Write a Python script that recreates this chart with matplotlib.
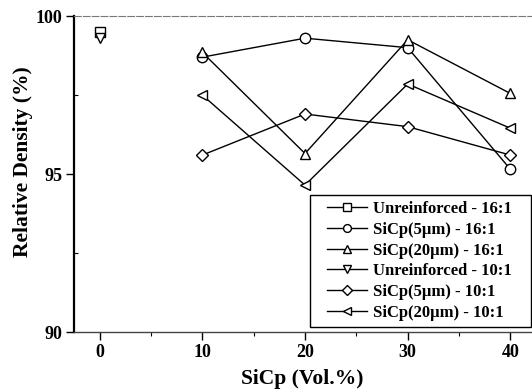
import numpy as np
import matplotlib.pyplot as plt
from matplotlib.ticker import MultipleLocator
from matplotlib.legend_handler import HandlerLine2D

plt.rcParams['font.family'] = ['Liberation Serif', 'DejaVu Serif']
plt.rcParams['font.weight'] = 'bold'

# data
x_unre = [0]
unre_16 = [99.5]
unre_10 = [99.3]

x_sic = [10, 20, 30, 40]
sic5_16 = [98.7, 99.3, 99.0, 95.15]
sic20_16 = [98.85, 95.65, 99.25, 97.55]
sic5_10 = [95.6, 96.9, 96.5, 95.6]
sic20_10 = [97.5, 94.65, 97.85, 96.45]

labels = ["Unreinforced - 16:1", "SiCp(5\u03bcm) - 16:1", "SiCp(20\u03bcm) - 16:1",
          "Unreinforced - 10:1", "SiCp(5\u03bcm) - 10:1", "SiCp(20\u03bcm) - 10:1"]

fig = plt.figure(figsize=(5.32, 3.92), dpi=100)
ax = fig.add_axes([0.139, 0.153, 0.859, 0.806])

style = dict(color='black', lw=1.0, mfc='white', mec='black', mew=1.0, ms=7.5)
ax.plot(x_unre, unre_16, marker='s', label=labels[0], **dict(style, ms=7))
ax.plot(x_sic, sic5_16, marker='o', label=labels[1], **style)
ax.plot(x_sic, sic20_16, marker='^', label=labels[2], **style)
ax.plot(x_unre, unre_10, marker='v', label=labels[3], **style)
ax.plot(x_sic, sic5_10, marker='D', label=labels[4], **dict(style, ms=6.5))
ax.plot(x_sic, sic20_10, marker='<', label=labels[5], **style)

ax.set_xlim(-2.5, 42)
ax.set_ylim(90, 100)
ax.xaxis.set_major_locator(MultipleLocator(10))
ax.xaxis.set_minor_locator(MultipleLocator(5))
ax.yaxis.set_major_locator(MultipleLocator(5))
ax.yaxis.set_minor_locator(MultipleLocator(2.5))
ax.tick_params(which='major', direction='out', length=6, width=1.0, labelsize=13, pad=2.5)
ax.tick_params(axis='x', which='minor', direction='out', length=3, width=0.8)
ax.tick_params(axis='y', which='minor', direction='in', length=3, width=0.8)

ax.spines['left'].set_linewidth(1.6)
ax.spines['bottom'].set_linewidth(1.0)
ax.spines['bottom'].set_color('#444444')
ax.spines['top'].set_linewidth(0.8)
ax.spines['top'].set_linestyle((0, (6, 2)))
ax.spines['top'].set_color('#777777')
ax.spines['right'].set_visible(False)

ax.set_xlabel("SiCp (Vol.%)", fontsize=15.5, fontweight='bold', labelpad=6)
ax.set_ylabel("Relative Density (%)", fontsize=15.5, fontweight='bold')
ax.yaxis.set_label_coords(-0.09, 0.54)

# trailing spaces give the wider right margin of the original legend box
leg_labels = [s + "   " for s in labels]
handles = ax.get_lines()
leg = ax.legend(handles, leg_labels, loc='lower right', bbox_to_anchor=(1.0, 0.015),
                fontsize=12, frameon=True, fancybox=False, edgecolor='black',
                framealpha=1, handlelength=3.04, handletextpad=0.35, borderpad=0.4,
                labelspacing=0.28, borderaxespad=0.0, markerscale=0.75,
                handler_map={h: HandlerLine2D(xpad=0.6) for h in handles})
leg.get_frame().set_linewidth(1.0)

fig.savefig("out.png", dpi=100)
